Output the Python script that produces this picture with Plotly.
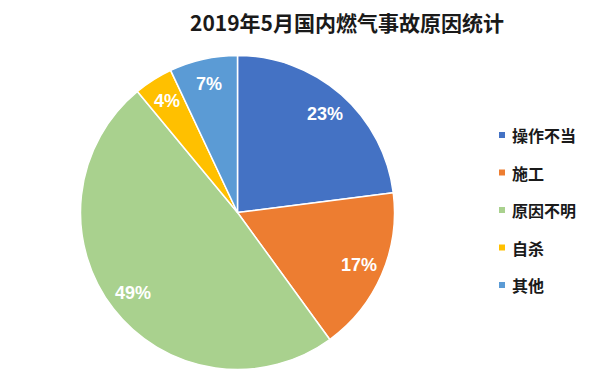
import math
import plotly.graph_objects as go

title = "2019年5月国内燃气事故原因统计"
labels = ["操作不当", "施工", "原因不明", "自杀", "其他"]
values = [23, 17, 49, 4, 7]
colors = ["#4472C4", "#ED7D31", "#A9D18E", "#FFC000", "#5B9BD5"]

W, H = 600, 371
OFF = 8  # page body margin in the browser
cx, cy, R = 237.5, 212.5, 157.0


def px2x(px):
    return (px - OFF) / W


def px2y(py):
    return 1 - (py - OFF) / H


fig = go.Figure(go.Pie(
    labels=labels, values=values, sort=False, direction="clockwise", rotation=0,
    marker=dict(colors=colors, line=dict(color="white", width=1.5)),
    textinfo="none", hoverinfo="label+percent", showlegend=False,
    domain=dict(x=[px2x(cx - R), px2x(cx + R)], y=[px2y(cy + R), px2y(cy - R)]),
))

annotations = []
total = sum(values)
cum = 0
for v in values:
    mid = (cum + v / 2) / total * 2 * math.pi
    cum += v
    r = 0.84 * R
    px = cx + r * math.sin(mid)
    py = cy - r * math.cos(mid)
    annotations.append(dict(
        x=px2x(px), y=px2y(py), xref="paper", yref="paper", showarrow=False,
        xanchor="center", yanchor="middle",
        text=f"{round(v / total * 100)}%",
        font=dict(family="Liberation Sans, Arial", size=18, color="white", weight="bold"),
    ))

shapes = []
ly0, lstep = 135, 37.5
for i, (lab, col) in enumerate(zip(labels, colors)):
    y = ly0 + i * lstep
    shapes.append(dict(type="rect", xref="paper", yref="paper",
                       x0=px2x(499), x1=px2x(505), y0=px2y(y + 3), y1=px2y(y - 3),
                       fillcolor=col, line=dict(width=0)))
    annotations.append(dict(
        x=px2x(510), y=px2y(y), xref="paper", yref="paper", showarrow=False,
        xanchor="left", yanchor="middle", text=lab,
        font=dict(family="Noto Sans CJK SC", size=16, color="#1a1a1a", weight="bold"),
    ))

fig.update_layout(
    width=W, height=H, margin=dict(l=0, r=0, t=0, b=0),
    paper_bgcolor="white", plot_bgcolor="white",
    title=dict(text=title, x=px2x(347), xanchor="center", xref="container",
               y=px2y(24), yanchor="middle", yref="container",
               font=dict(family="Noto Sans CJK SC", size=21, color="#1a1a1a", weight="bold")),
    annotations=annotations, shapes=shapes,
)
fig.write_html("out.html")
